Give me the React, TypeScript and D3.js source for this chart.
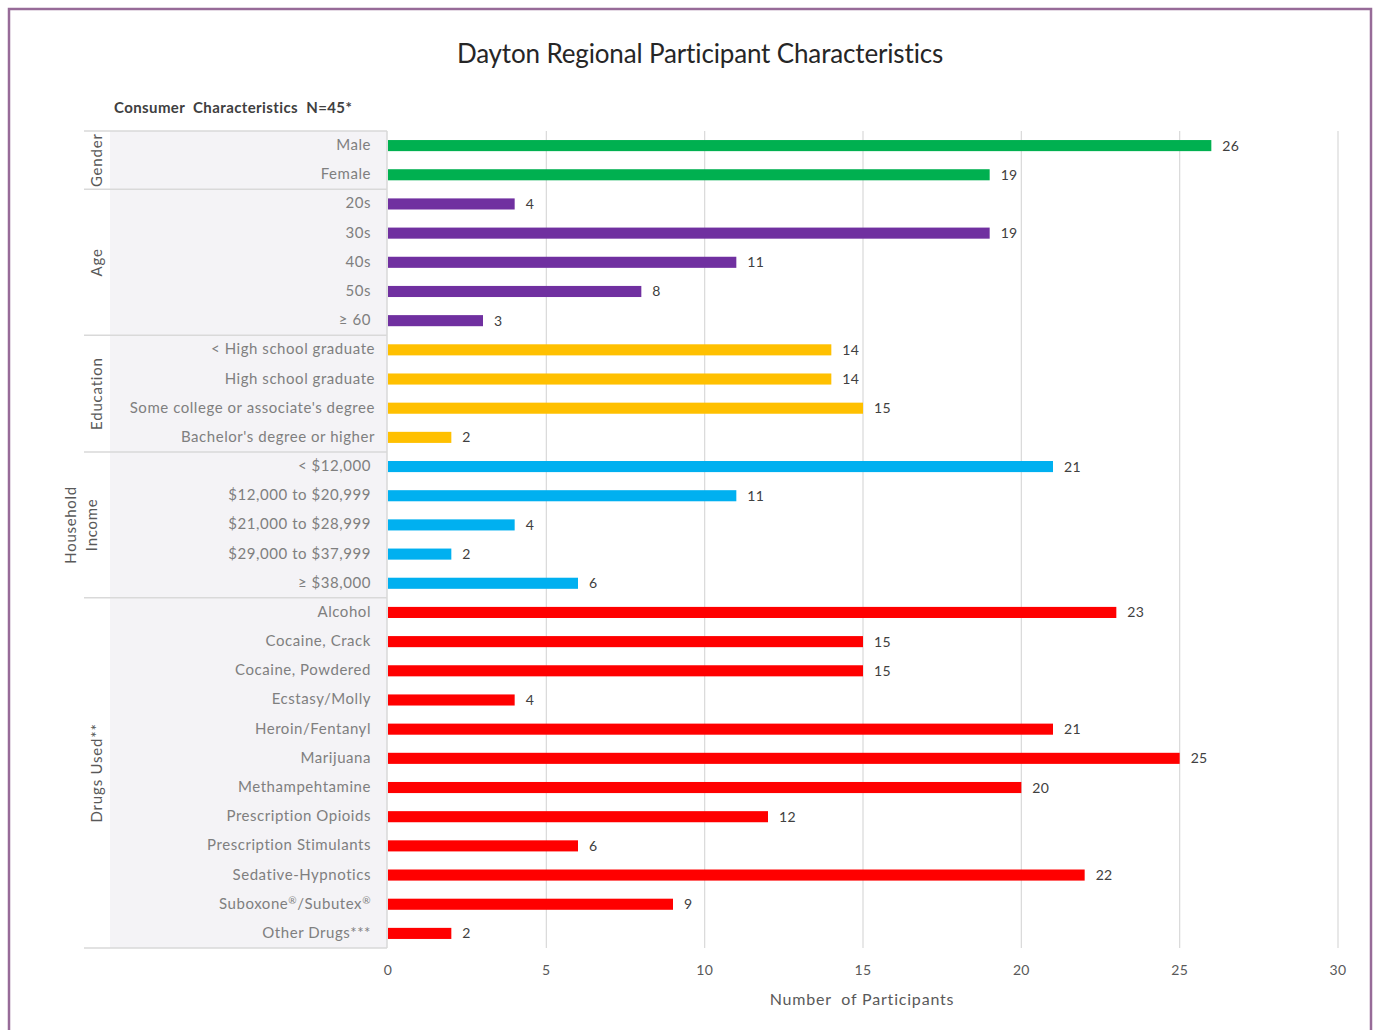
import React from "react";
import * as d3 from "d3";

const groupNames = ["Gender", "Age", "Education", "Household Income", "Drugs Used**"];
const genderLabels = ["Male", "Female"];
const genderValues = [26, 19];
const ageLabels = ["20s", "30s", "40s", "50s", "\u2265 60"];
const ageValues = [4, 19, 11, 8, 3];
const educationLabels = ["< High school graduate", "High school graduate", "Some college or associate's degree", "Bachelor's degree or higher"];
const educationValues = [14, 14, 15, 2];
const incomeLabels = ["< $12,000", "$12,000 to $20,999", "$21,000 to $28,999", "$29,000 to $37,999", "\u2265 $38,000"];
const incomeValues = [21, 11, 4, 2, 6];
const drugLabels = ["Alcohol", "Cocaine, Crack", "Cocaine, Powdered", "Ecstasy/Molly", "Heroin/Fentanyl", "Marijuana", "Methampehtamine", "Prescription Opioids", "Prescription Stimulants", "Sedative-Hypnotics", "Suboxone\u00AE/Subutex\u00AE", "Other Drugs***"];
const drugValues = [23, 15, 15, 4, 21, 25, 20, 12, 6, 22, 9, 2];
const xTicks = [0, 5, 10, 15, 20, 25, 30];

const groupColors = ["#00b050", "#7030a0", "#ffc000", "#00b0f0", "#ff0000"];
const groupLabelLists = [genderLabels, ageLabels, educationLabels, incomeLabels, drugLabels];
const groupValueLists = [genderValues, ageValues, educationValues, incomeValues, drugValues];

type Row = { key: string; label: string; value: number; group: number };

const rows: Row[] = [];
groupLabelLists.forEach((labels, g) => {
  labels.forEach((label, i) => {
    rows.push({ key: `${g}-${i}`, label, value: groupValueLists[g][i], group: g });
  });
});

const FONT = "Lato, 'Open Sans', sans-serif";

function renderLabel(label: string) {
  const parts = label.split("\u00AE");
  if (parts.length === 1) return label;
  const out: React.ReactNode[] = [];
  parts.forEach((p, i) => {
    out.push(<tspan key={`p${i}`} dy={i === 0 ? 0 : 5}>{p}</tspan>);
    if (i < parts.length - 1) out.push(<tspan key={`r${i}`} fontSize={10} dy={-5}>{"\u00AE"}</tspan>);
  });
  return out;
}

export default function App() {
  const W = 1374, H = 1030;
  const x0 = 388, x1 = 1338, yTop = 131, yBot = 948;
  const panelLeft = 84, panelInner = 110, panelRight = 387;
  const x = d3.scaleLinear().domain([0, 30]).range([x0, x1]);
  const y = d3.scaleBand<string>().domain(rows.map(r => r.key)).range([yTop, yBot]).padding(0);
  const bw = y.bandwidth();
  const barH = bw * 0.38;

  const groupBounds = groupNames.map((_, g) => {
    const gr = rows.filter(r => r.group === g);
    const top = y(gr[0].key)!;
    const bot = y(gr[gr.length - 1].key)! + bw;
    return { top, bot, mid: (top + bot) / 2 };
  });

  return (
    <svg width={W} height={H} style={{ position: "absolute", left: 0, top: 0, background: "#fff" }} fontFamily={FONT}>
      <rect x={0} y={0} width={W} height={H} fill="#fff" />
      <path d={`M9,${H + 5} L9,9 L1371,9 L1371,${H + 5}`} fill="none" stroke="#976b98" strokeWidth={2.5} />
      <text x={700} y={63} textAnchor="middle" fontSize={26} fill="#262626" letterSpacing={-0.15}>Dayton Regional Participant Characteristics</text>
      <text x={114} y={113} fontSize={15} fontWeight="bold" fill="#404040" letterSpacing={0.4} xmlSpace="preserve" style={{ whiteSpace: "pre" }}>Consumer  Characteristics  N=45*</text>

      <rect x={panelInner} y={yTop} width={panelRight - panelInner} height={yBot - yTop} fill="#f4f3f6" />
      <line x1={panelLeft} x2={panelRight} y1={yTop} y2={yTop} stroke="#d9d9d9" strokeWidth={1.5} />
      {groupBounds.map((b, g) => (
        <line key={g} x1={panelLeft} x2={panelRight} y1={b.bot} y2={b.bot} stroke="#d9d9d9" strokeWidth={1.5} />
      ))}
      <line x1={panelRight} x2={panelRight} y1={yTop} y2={yBot} stroke="#d9d9d9" strokeWidth={1.5} />

      {xTicks.filter(t => t > 0).map(t => (
        <line key={t} x1={x(t)} x2={x(t)} y1={yTop} y2={yBot} stroke="#d9d9d9" strokeWidth={1.2} />
      ))}

      {groupBounds.map((b, g) => {
        const name = groupNames[g];
        if (name === "Household Income") {
          return (
            <g key={g}>
              <text transform={`translate(76,${b.mid}) rotate(-90)`} textAnchor="middle" fontSize={15} letterSpacing={0.7} fill="#595959">Household</text>
              <text transform={`translate(97,${b.mid}) rotate(-90)`} textAnchor="middle" fontSize={15} letterSpacing={0.7} fill="#595959">Income</text>
            </g>
          );
        }
        return (
          <text key={g} transform={`translate(102,${b.mid}) rotate(-90)`} textAnchor="middle" fontSize={15} letterSpacing={0.8} fill="#595959">{name}</text>
        );
      })}

      {rows.map(r => (
        <text key={r.key} x={r.group === 2 ? 375 : 371} y={y(r.key)! + bw / 2 + 4.5} textAnchor="end" fontSize={15} letterSpacing={0.55} fill="#7f7f7f">{renderLabel(r.label)}</text>
      ))}

      {rows.map(r => (
        <rect key={r.key} x={x(0)} y={y(r.key)! + bw / 2 - barH / 2} width={x(r.value) - x(0)} height={barH} fill={groupColors[r.group]} />
      ))}
      {rows.map(r => (
        <text key={r.key} x={x(r.value) + 11} y={y(r.key)! + bw / 2 + 5} fontSize={14} letterSpacing={0.3} fill="#404040">{r.value}</text>
      ))}

      {xTicks.map(t => (
        <text key={t} x={x(t)} y={975} textAnchor="middle" fontSize={14} letterSpacing={0.3} fill="#595959">{t}</text>
      ))}
      <text x={862} y={1005} textAnchor="middle" fontSize={16} letterSpacing={0.8} fill="#595959" xmlSpace="preserve" style={{ whiteSpace: "pre" }}>Number  of Participants</text>
    </svg>
  );
}
